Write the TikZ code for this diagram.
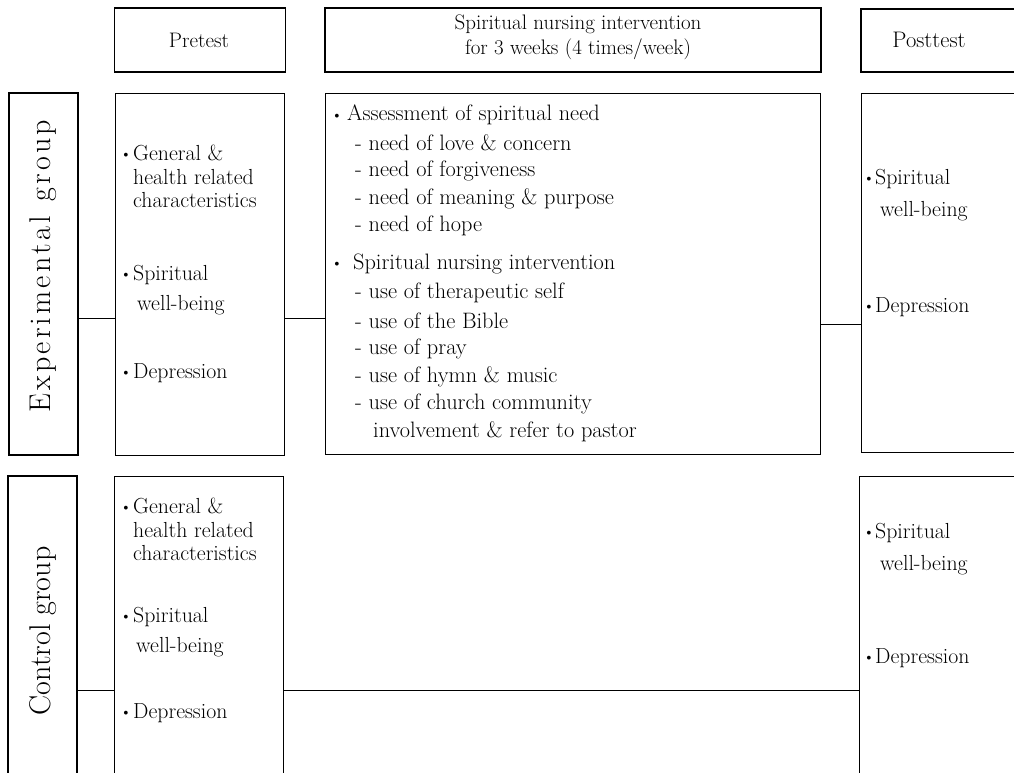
\documentclass[tikz,border=0pt]{standalone}
\usepackage{fontspec}
\newcommand\bul[1]{\makebox[#1][l]{\raisebox{1.6pt}{\fontsize{14}{14}\selectfont\textbullet}}}
\newcommand\lk{\kern3.1pt}
\begin{document}
\begin{tikzpicture}[x=1pt,y=-1pt,
  thinbox/.style={draw, line width=0.9pt, rectangle, inner sep=0pt},
  thickbox/.style={draw, line width=1.7pt, rectangle, inner sep=0pt},
  txt/.style={anchor=west, inner sep=0pt, font=\fontsize{21.8}{24}\selectfont},
  mtxt/.style={anchor=west, inner sep=0pt, font=\fontsize{22.3}{24}\selectfont},
  htxt/.style={inner sep=0pt, font=\fontsize{21}{25}\selectfont, align=center},
  grp/.style={rotate=90, inner sep=0pt, font=\fontsize{30}{30}\selectfont},
  conn/.style={line width=0.9pt}]
\useasboundingbox (0,0) rectangle (1014,772);
\clip (0,0) rectangle (1014,772);
% header boxes
\node[thickbox, minimum width=171pt, minimum height=64pt] (hpre) at (200,40) {};
\node[thickbox, minimum width=496pt, minimum height=64pt] (hmid) at (573,40) {};
\node[thickbox, minimum width=179pt, minimum height=63pt] (hpost) at (950.5,40.5) {};
\node[htxt] (tpre) at (199,40) {Pretest};
\node[htxt] (tmid) at (578,37.5) {Spiritual nursing intervention\\for 3 weeks (4 times/week)};
\node[htxt, font=\fontsize{22.5}{25}\selectfont] (tpost) at (929,40) {Posttest};
% group boxes
\node[thickbox, minimum width=69pt, minimum height=362pt] (expl) at (43.5,274) {};
\node[thickbox, minimum width=69pt, minimum height=314pt] (ctl) at (42.5,633) {};
\node[grp] (texp) at (43,266) {E\lk x\lk p\lk e\lk r\lk i\lk m\lk e\lk n\lk t\lk a\lk l\lk\ \lk g\lk r\lk o\lk u\lk p};
\node[grp] (tctl) at (43,631) {Control group};
% content boxes
\node[thinbox, minimum width=169pt, minimum height=362pt] (exppre) at (199.5,274) {};
\node[thinbox, minimum width=495pt, minimum height=361pt] (expint) at (572.5,273.5) {};
\node[thinbox, minimum width=179pt, minimum height=359pt] (exppost) at (950.5,272.5) {};
\node[thinbox, minimum width=169pt, minimum height=314pt] (ctlpre) at (198.5,633) {};
\node[thinbox, minimum width=181pt, minimum height=314pt] (ctlpost) at (949.5,633) {};
% connectors
\coordinate (ya) at (0,318);
\coordinate (yb) at (0,324);
\coordinate (yc) at (0,690);
\draw[conn] (expl.east |- ya) -- (exppre.west |- ya);
\draw[conn] (exppre.east |- ya) -- (expint.west |- ya);
\draw[conn] (expint.east |- yb) -- (exppost.west |- yb);
\draw[conn] (ctl.east |- yc) -- (ctlpre.west |- yc);
\draw[conn] (ctlpre.east |- yc) -- (ctlpost.west |- yc);
% experimental pretest
\node[txt] (ea1) at (120.5,153) {\bul{12.5pt}General \&};
\node[txt] (ea2) at (133,177) {health related};
\node[txt] (ea3) at (133,200) {characteristics};
\node[txt] (ea4) at (120.5,275) {\bul{12.5pt}Spiritual};
\node[txt] (ea5) at (137,305) {well-being};
\node[txt] (ea6) at (120.5,373) {\bul{12.5pt}Depression};
% control pretest
\node[txt] (ca1) at (120.5,506) {\bul{12.5pt}General \&};
\node[txt] (ca2) at (133,530) {health related};
\node[txt] (ca3) at (133,553) {characteristics};
\node[txt] (ca4) at (120.5,617) {\bul{12.5pt}Spiritual};
\node[txt] (ca5) at (136,647) {well-being};
\node[txt] (ca6) at (120.5,713) {\bul{12.5pt}Depression};
% experimental posttest
\node[txt] (ep1) at (863.5,179) {\bul{11.5pt}Spiritual};
\node[txt] (ep2) at (880,211) {well-being};
\node[txt] (ep3) at (863.5,307) {\bul{11.5pt}Depression};
% control posttest
\node[txt] (cp1) at (863.5,533) {\bul{11.5pt}Spiritual};
\node[txt] (cp2) at (880,565) {well-being};
\node[txt] (cp3) at (863.5,658) {\bul{11.5pt}Depression};
% intervention
\node[mtxt] (m1) at (331.5,115) {\bul{15.5pt}Assessment of spiritual need};
\node[mtxt] (m2) at (355,143) {- need of love \& concern};
\node[mtxt] (m3) at (355,171) {- need of forgiveness};
\node[mtxt] (m4) at (355,199) {- need of meaning \& purpose};
\node[mtxt] (m5) at (355,226) {- need of hope};
\node[mtxt] (m6) at (331.5,264) {\bul{21.5pt}Spiritual nursing intervention};
\node[mtxt] (m7) at (355,293) {- use of therapeutic self};
\node[mtxt] (m8) at (355,321) {- use of the Bible};
\node[mtxt] (m9) at (355,349) {- use of pray};
\node[mtxt] (m10) at (355,377) {- use of hymn \& music};
\node[mtxt] (m11) at (355,404) {- use of church community};
\node[mtxt] (m12) at (373,432) {involvement \& refer to pastor};
\end{tikzpicture}
\end{document}
